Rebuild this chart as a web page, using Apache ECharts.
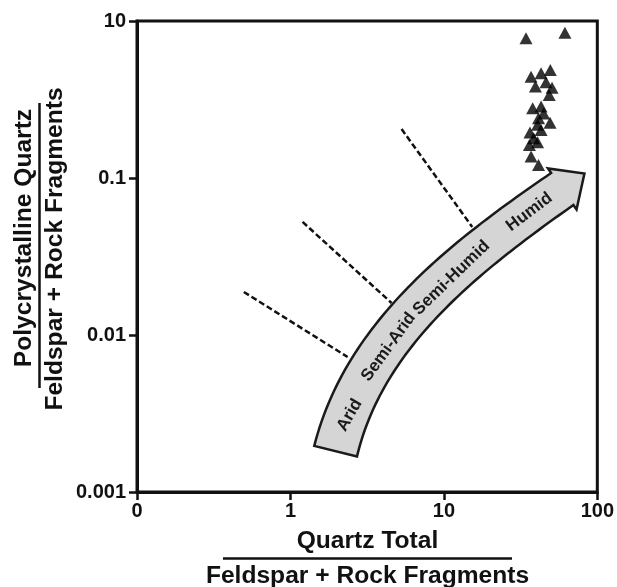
<!DOCTYPE html>
<html>
<head>
<meta charset="utf-8">
<script src="https://cdn.jsdelivr.net/npm/echarts@6/dist/echarts.min.js"></script>
<style>
  html, body { margin: 0; padding: 0; background: #fff; }
  #main { width: 617px; height: 587px; }
</style>
</head>
<body>
<div id="main"></div>
<script>
  // quartz total / (feldspar + rock fragments)
  var qtRatio = [34.3, 61.5, 37.0, 43.0, 49.4, 39.5, 46.3, 50.7, 48.6, 37.9, 43.0,
    41.4, 49.2, 40.8, 43.0, 36.4, 38.5, 40.8, 36.1, 37.0, 41.4, 44.7]
  // polycrystalline quartz / (feldspar + rock fragments)
  var pqRatio = [0.776, 0.842, 0.442, 0.464, 0.488, 0.382, 0.407, 0.376, 0.338, 0.278, 0.285,
    0.240, 0.225, 0.218, 0.202, 0.195, 0.179, 0.169, 0.162, 0.137, 0.121, 0.258]

  var xTicks = ['0', '1', '10', '100']
  var yTicks = ['0.001', '0.01', '0.1', '10']

  // dashed climate boundaries, start / end
  var boundaryX = [[0.497, 2.36], [1.20, 4.56], [5.30, 15.3]]
  var boundaryY = [[0.0188, 0.00724], [0.0525, 0.0160], [0.205, 0.0488]]

  // big arrow: bezier control points of its centre line
  var arrowX = [1.97, 3.03, 13.5, 59.1]
  var arrowY = [0.00182, 0.01006, 0.0312, 0.0851]

  var climates = ['Arid', 'Semi-Arid', 'Semi-Humid', 'Humid']
  var climateX = [2.43, 4.36, 11.2, 36.1]
  var climateY = [0.00309, 0.00839, 0.0231, 0.0607]

  var FONT = '"Liberation Sans", Arial, sans-serif'
  var labelTilt = [60, 54, 44, 37] // degrees, as lettered on the arrow

  function arrowItem(params, api) {
    var c = arrowX.map(function (x, i) { return api.coord([x, arrowY[i]]) })
    var pts = [], tan = [], N = 60
    for (var k = 0; k <= N; k++) {
      var t = k / N, u = 1 - t
      pts.push([0, 1].map(function (d) {
        return u * u * u * c[0][d] + 3 * u * u * t * c[1][d] + 3 * u * t * t * c[2][d] + t * t * t * c[3][d]
      }))
      var dv = [0, 1].map(function (d) {
        return 3 * u * u * (c[1][d] - c[0][d]) + 6 * u * t * (c[2][d] - c[1][d]) + 3 * t * t * (c[3][d] - c[2][d])
      })
      var len = Math.sqrt(dv[0] * dv[0] + dv[1] * dv[1])
      tan.push([dv[0] / len, dv[1] / len])
    }
    var up = [], lo = []
    pts.forEach(function (p, i) {
      var w = 22 - 2.5 * i / N, dx = tan[i][0], dy = tan[i][1]
      up.push([p[0] + w * dy, p[1] - w * dx])
      lo.push([p[0] - w * dy, p[1] + w * dx])
    })
    var e = pts[N], te = tan[N], hw = 25, hl = 27
    var head = [
      [e[0] + hw * te[1], e[1] - hw * te[0]],
      [e[0] + hl * te[0], e[1] + hl * te[1]],
      [e[0] - hw * te[1], e[1] + hw * te[0]]
    ]
    var children = [{
      type: 'polygon',
      shape: { points: up.concat(head, lo.reverse()) },
      style: { fill: '#d5d5d5', stroke: '#1a1a1a', lineWidth: 2.5, lineJoin: 'miter' }
    }]
    climates.forEach(function (name, j) {
      var p = api.coord([climateX[j], climateY[j]])
      children.push({
        type: 'text',
        x: p[0],
        y: p[1],
        rotation: labelTilt[j] * Math.PI / 180,
        style: {
          text: name, align: 'center', verticalAlign: 'middle',
          font: 'bold 17px ' + FONT, fill: '#1a1a1a'
        }
      })
    })
    return { type: 'group', children: children }
  }

  var chart = echarts.init(document.getElementById('main'))
  var series = boundaryX.map(function (xs, i) {
    return {
      type: 'line',
      data: xs.map(function (x, j) { return [x, boundaryY[i][j]] }),
      symbol: 'none',
      silent: true,
      z: 1,
      lineStyle: { color: '#111', width: 2.5, type: [6, 3] }
    }
  })
  series.push({
    type: 'custom',
    renderItem: arrowItem,
    data: [[arrowX[0], arrowY[0]]],
    silent: true,
    z: 2
  })
  series.push({
    type: 'scatter',
    symbol: 'triangle',
    symbolSize: [13, 12],
    itemStyle: { color: '#000' },
    z: 3,
    data: qtRatio.map(function (x, i) { return [x, pqRatio[i]] })
  })

  var axisLabel = {
    color: '#111',
    fontFamily: FONT,
    fontWeight: 'bold',
    fontSize: 20
  }

  chart.setOption({
    animation: false,
    backgroundColor: '#fff',
    grid: {
      left: 137,
      right: 19,
      top: 21,
      bottom: 95,
      show: true,
      borderColor: '#111',
      borderWidth: 3
    },
    xAxis: {
      type: 'log',
      logBase: 10,
      min: 0.1,
      max: 100,
      axisLine: { lineStyle: { color: '#111', width: 3 } },
      axisTick: { show: true, length: 8, lineStyle: { color: '#111', width: 2.5 } },
      minorTick: { show: false },
      splitLine: { show: false },
      axisLabel: Object.assign({
        margin: 9,
        formatter: function (v) { return xTicks[Math.round(Math.log10(v)) + 1] }
      }, axisLabel)
    },
    yAxis: {
      type: 'log',
      logBase: 10,
      min: 0.001,
      max: 1,
      axisLine: { lineStyle: { color: '#111', width: 3 } },
      axisTick: { show: true, length: 8, lineStyle: { color: '#111', width: 2.5 } },
      splitLine: { show: false },
      axisLabel: Object.assign({
        margin: 11,
        formatter: function (v) { return yTicks[Math.round(Math.log10(v)) + 3] }
      }, axisLabel)
    },
    graphic: [
      {
        type: 'text', x: 367.5, y: 541,
        style: { text: 'Quartz Total', align: 'center', verticalAlign: 'middle', font: 'bold 24.6px ' + FONT, fill: '#111' }
      },
      {
        type: 'line', shape: { x1: 223, y1: 558.5, x2: 512, y2: 558.5 },
        style: { stroke: '#111', lineWidth: 2.5 }
      },
      {
        type: 'text', x: 367.5, y: 576,
        style: { text: 'Feldspar + Rock Fragments', align: 'center', verticalAlign: 'middle', font: 'bold 24.6px ' + FONT, fill: '#111' }
      },
      {
        type: 'text', x: 24, y: 238, rotation: Math.PI / 2,
        style: { text: 'Polycrystalline Quartz', align: 'center', verticalAlign: 'middle', font: 'bold 24.6px ' + FONT, fill: '#111' }
      },
      {
        type: 'line', shape: { x1: 39.5, y1: 103, x2: 39.5, y2: 388 },
        style: { stroke: '#111', lineWidth: 2.5 }
      },
      {
        type: 'text', x: 55, y: 249, rotation: Math.PI / 2,
        style: { text: 'Feldspar + Rock Fragments', align: 'center', verticalAlign: 'middle', font: 'bold 24.6px ' + FONT, fill: '#111' }
      }
    ],
    series: series
  })
</script>
</body>
</html>
